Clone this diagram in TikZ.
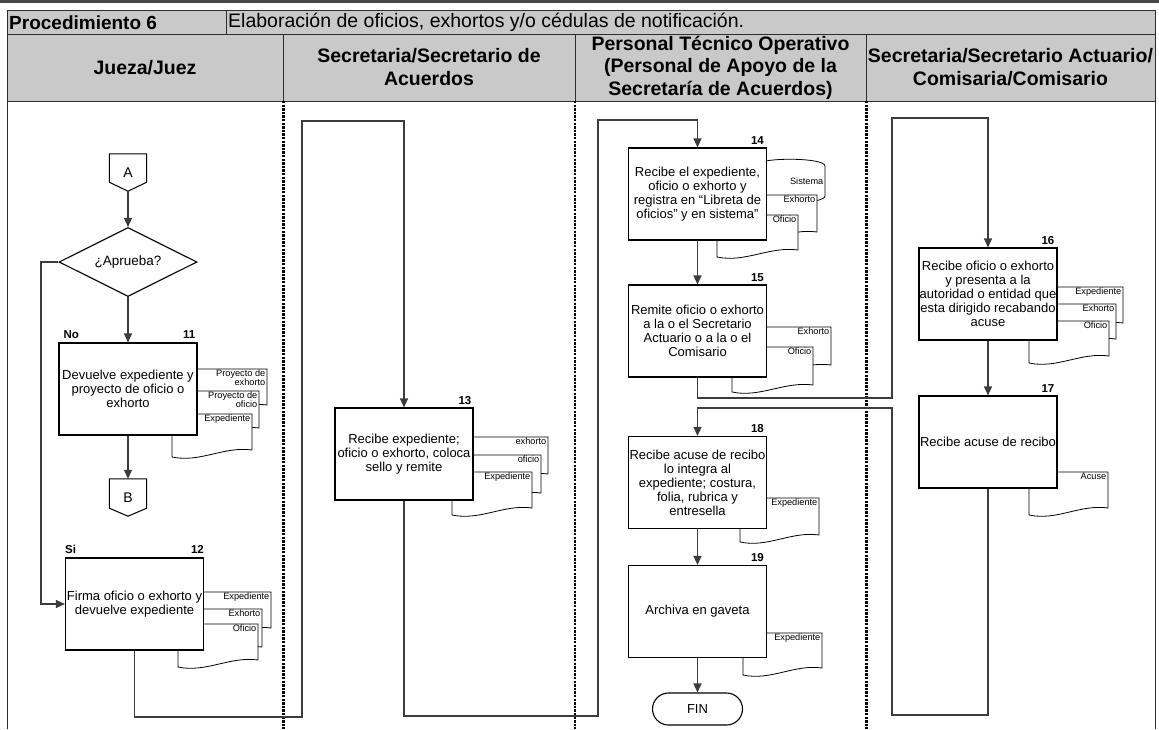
\documentclass[tikz,border=0pt]{standalone}
\usepackage{fontspec}
\setmainfont{Liberation Sans}
\usetikzlibrary{shapes.geometric,arrows.meta}
\definecolor{hdr}{RGB}{201,201,201}
\definecolor{rule}{RGB}{45,45,45}
\definecolor{conn}{RGB}{60,60,60}

\tikzset{
  stepbox/.style={draw=black, line width=1.1pt, fill=white, minimum width=138pt,
    minimum height=92pt, inner sep=0pt, align=center, font=\fontsize{13}{14}\selectfont},
  num/.style={font=\fontsize{11.5}{12}\selectfont\bfseries, inner sep=0pt},
  doclabel/.style={font=\fontsize{9.2}{9}\selectfont, inner sep=0pt, align=right},
  docline/.style={draw=black, line width=0.8pt, fill=white},
  flow/.style={draw=conn, line width=1.1pt},
  arr/.style={flow, -{Triangle[length=9pt,width=8pt]}},
  lane/.style={draw=black, line width=2.2pt, dash pattern=on 2.4pt off 1.2pt},
  frameline/.style={draw=rule, line width=1pt},
  hdrtext/.style={font=\fontsize{19.5}{22.5}\selectfont\bfseries, align=center, inner sep=0pt},
  offpage/.style={minimum width=37pt, minimum height=37pt, inner sep=0pt,
    font=\fontsize{14}{16}\selectfont},
}

% document symbol: name, left, top, right, bottom (left end), label
\newcommand{\docsh}[6]{%
  \path[docline] (#2,#3) -- (#4,#3) -- (#4,#5-7)
    .. controls (#4-28,#5-11) and (#2+28,#5+6) .. (#2,#5) -- cycle;
  \node[doclabel, anchor=north east] (#1) at (#4-1.5,#3+1) {#6};
}

\begin{document}
\begin{tikzpicture}[x=1pt, y=-1pt]
\useasboundingbox (0,0) rectangle (1159,729);

% ---------- table head ----------
\draw[line width=2.6pt, black!72] (0,1.3) -- (1159,1.3);
\fill[hdr] (7,10) rectangle (1155,101);
\draw[frameline] (7,729) -- (7,10) -- (1155,10) -- (1155,729);
\draw[frameline] (7,34) -- (1155,34);
\draw[frameline] (7,101) -- (1155,101);
\draw[frameline] (226,10) -- (226,34);
\foreach \xx in {283,575,866} \draw[frameline] (\xx,34) -- (\xx,101);
\foreach \xx in {283.5,575,866.5} \draw[lane] (\xx,101) -- (\xx,729);

\node[anchor=west, inner sep=0pt, font=\fontsize{19}{22}\selectfont\bfseries] (proc) at (9,22.5) {Procedimiento 6};
\node[anchor=west, inner sep=0pt, font=\fontsize{19.5}{22}\selectfont] (ptitle) at (228,22.5)
  {Elaboración de oficios, exhortos y/o cédulas de notificación.};

\node[hdrtext] (h1) at (145,68) {Jueza/Juez};
\node[hdrtext] (h2) at (429,67) {Secretaria/Secretario de\\Acuerdos};
\node[hdrtext] (h3) at (720.5,67.5) {Personal Técnico Operativo\\(Personal de Apoyo de la\\Secretaría de Acuerdos)};
\node[hdrtext] (h4) at (1010.5,67) {Secretaria/Secretario Actuario/\\Comisaria/Comisario};

% ---------- documents behind the activity boxes ----------
\docsh{d11a}{187}{369}{267}{412}{Proyecto de\\exhorto}
\docsh{d11b}{179}{391}{259}{435}{Proyecto de\\oficio}
\docsh{d11c}{172}{414}{252}{457}{Expediente}

\docsh{d12a}{191}{592}{271}{635}{Expediente}
\docsh{d12b}{182}{609}{262}{654}{Exhorto}
\docsh{d12c}{178}{624}{258}{667}{Oficio}

\docsh{d13a}{468}{437}{548}{481}{exhorto}
\docsh{d13b}{461}{455}{541}{500}{oficio}
\docsh{d13c}{452}{472}{532}{515}{Expediente}

% data store of step 14
\path[docline] (755,166) .. controls (755,157) and (825,157) .. (825,166)
  -- (825,196) .. controls (825,205) and (755,205) .. (755,196) -- cycle;
\node[doclabel, anchor=east] (d14s) at (823.5,181) {Sistema};
\docsh{d14a}{737}{195}{817}{239}{Exhorto}
\docsh{d14b}{717}{215}{798}{257}{Oficio}

\docsh{d15a}{751}{327}{831}{372}{Exhorto}
\docsh{d15b}{732}{347}{813}{392}{Oficio}

\docsh{d16a}{1043}{287}{1123}{330}{Expediente}
\docsh{d16b}{1036}{304}{1116}{346}{Exhorto}
\docsh{d16c}{1029}{321}{1109}{363}{Oficio}

\docsh{d17a}{1029}{472}{1108}{515}{Acuse}
\docsh{d18a}{740}{498}{819}{542}{Expediente}
\docsh{d19a}{743}{633}{822}{675}{Expediente}

% ---------- Jueza/Juez ----------
\node[offpage] (A) at (128,172.5) {A};
\draw[line width=1pt] (A.north west) -- (A.north east) -- ([yshift=9pt]A.south east)
  -- (A.south) -- ([yshift=9pt]A.south west) -- cycle;
\node[draw=black, line width=1.1pt, shape=diamond, aspect=2, minimum width=138pt,
  minimum height=69pt, inner sep=0pt, font=\fontsize{13.5}{15}\selectfont] (dec) at (128,262) {¿Aprueba?};
\node[stepbox] (s11) at (128,389) {Devuelve expediente y\\proyecto de oficio o\\exhorto};
\node[offpage] (B) at (128,497.5) {B};
\draw[line width=1pt] (B.north west) -- (B.north east) -- ([yshift=8pt]B.south east)
  -- (B.south) -- ([yshift=8pt]B.south west) -- cycle;
\node[stepbox] (s12) at (134.5,604) {Firma oficio o exhorto y\\devuelve expediente};

\node[num, anchor=south east] (n11) at ([xshift=-2pt,yshift=4pt]s11.north east) {11};
\node[num, anchor=south west] (lno) at ([xshift=5pt,yshift=4pt]s11.north west) {No};
\node[num, anchor=south east] (n12) at ([xshift=0pt,yshift=4pt]s12.north east) {12};
\node[num, anchor=south west] (lsi) at ([xshift=0pt,yshift=4pt]s12.north west) {Si};

% ---------- Secretaria/Secretario de Acuerdos ----------
\node[stepbox] (s13) at (404,454) {Recibe expediente;\\oficio o exhorto, coloca\\sello y remite};
\node[num, anchor=south east] (n13) at ([xshift=-2pt,yshift=3pt]s13.north east) {13};

% ---------- Personal Tecnico Operativo ----------
\node[stepbox] (s14) at (697.5,194) {Recibe el expediente,\\oficio o exhorto y\\registra en “Libreta de\\oficios” y en sistema”};
\node[stepbox] (s15) at (697.5,331) {Remite oficio o exhorto\\a la o el Secretario\\Actuario o a la o el\\Comisario};
\node[stepbox] (s18) at (697.5,482.5) {Recibe acuse de recibo\\lo integra al\\expediente; costura,\\folia, rubrica y\\entresella};
\node[stepbox] (s19) at (697.5,611.5) {Archiva en gaveta};
\node[draw=black, line width=1.1pt, rounded corners=16pt, minimum width=90pt, minimum height=32pt,
  inner sep=0pt, font=\fontsize{13}{14}\selectfont] (fin) at (697.5,709) {FIN};
\node[num, anchor=south east] (n14) at ([xshift=-3pt,yshift=3pt]s14.north east) {14};
\node[num, anchor=south east] (n15) at ([xshift=-3pt,yshift=3pt]s15.north east) {15};
\node[num, anchor=south east] (n18) at ([xshift=-3pt,yshift=3pt]s18.north east) {18};
\node[num, anchor=south east] (n19) at ([xshift=-3pt,yshift=3pt]s19.north east) {19};

% ---------- Secretaria/Secretario Actuario ----------
\node[stepbox] (s16) at (988,294) {Recibe oficio o exhorto\\y presenta a la\\autoridad o entidad que\\esta dirigido recabando\\acuse};
\node[stepbox] (s17) at (988,442) {Recibe acuse de recibo};
\node[num, anchor=south east] (n16) at ([xshift=-3pt,yshift=3pt]s16.north east) {16};
\node[num, anchor=south east] (n17) at ([xshift=-3pt,yshift=3pt]s17.north east) {17};

% ---------- connectors ----------
\coordinate (siturn) at (41,262);
\coordinate (k1a) at (302,717);  \coordinate (k1b) at (302,121);
\coordinate (k2a) at (598,716);  \coordinate (k2b) at (598,120);
\coordinate (k3a) at (892,398);  \coordinate (k3b) at (892,118);
\coordinate (k4a) at (892,715);  \coordinate (k4b) at (892,408);

\draw[arr] (A.south) -- (dec.north);
\draw[arr] (dec.south) -- (s11.north);
\draw[arr] (s11.south) -- (B.north);
\draw[arr] (dec.west) -- (siturn) |- (s12.west);
\draw[arr] (s12.south) |- (k1a) -- (k1b) -| (s13.north);
\draw[arr] (s13.south) |- (k2a) -- (k2b) -| (s14.north);
\draw[arr] (s14.south) -- (s15.north);
\draw[arr] (s15.south) |- (k3a) -- (k3b) -| (s16.north);
\draw[arr] (s16.south) -- (s17.north);
\draw[arr] (s17.south) |- (k4a) -- (k4b) -| (s18.north);
\draw[arr] (s18.south) -- (s19.north);
\draw[arr] (s19.south) -- (fin.north);
\end{tikzpicture}
\end{document}
